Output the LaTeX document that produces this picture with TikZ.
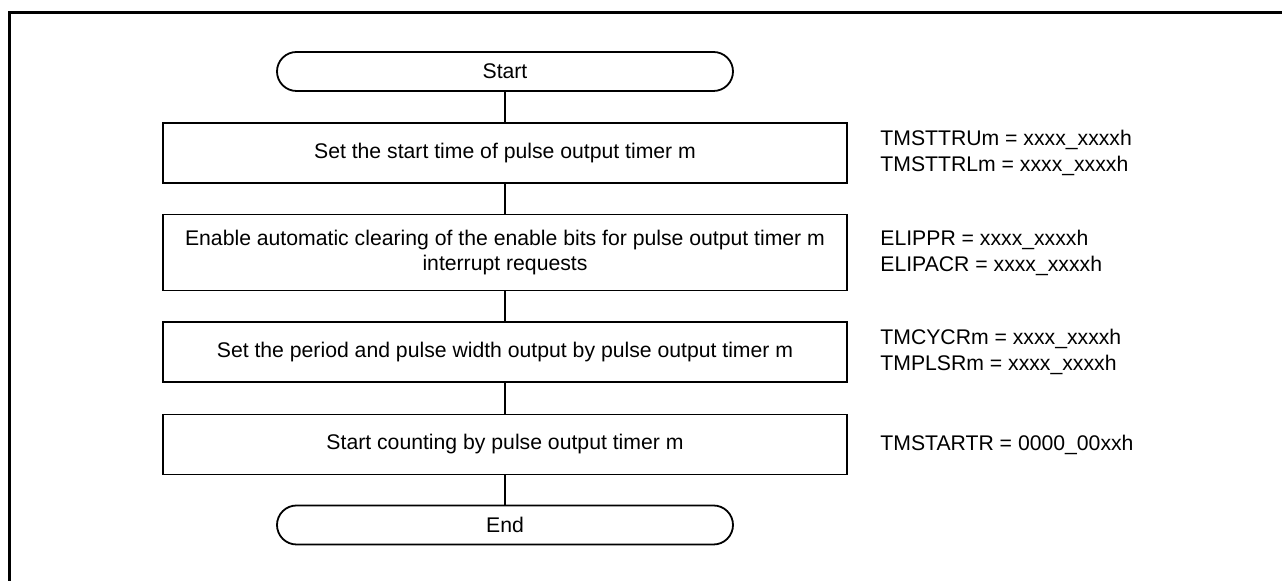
\documentclass[tikz,border=0pt]{standalone}
\usepackage{fontspec}
\setmainfont{Liberation Sans}
\usetikzlibrary{positioning}
\tikzset{box/.style={draw,line width=.9pt,minimum width=342pt,align=center,inner sep=0pt,font=\fontsize{10.6}{12.5}\selectfont},
term/.style={draw,line width=.9pt,minimum width=228pt,minimum height=19.5pt,rounded corners=9.75pt,inner sep=0pt,font=\fontsize{10.6}{12.5}\selectfont},
note/.style={anchor=west,align=left,inner sep=0pt,font=\fontsize{10.6}{13}\selectfont},
link/.style={line width=.8pt}}

\begin{document}
\begin{tikzpicture}[x=.5pt,y=-.5pt]
\useasboundingbox (0,0) rectangle (1282,581);
\draw[line width=1.75pt] (9.5,581) |- (1282,12.5);
\node[term] (start) at (505,71.5) {Start};
\node[box,minimum height=30pt] (b1) at (505,152.7) {Set the start time of pulse output timer m};
\node[box,minimum height=38pt] (b2) at (505,252.5) {Enable automatic clearing of the enable bits for pulse output timer m\\interrupt requests};
\node[box,minimum height=30.3pt] (b3) at (505,352) {Set the period and pulse width output by pulse output timer m};
\node[box,minimum height=30pt] (b4) at (505,444.5) {Start counting by pulse output timer m};
\node[term] (end) at (505,525) {End};
\foreach \a/\b in {start/b1,b1/b2,b2/b3,b3/b4,b4/end}
  \draw[link] (\a) -- (\b);
% register settings
\node[note] (n1) at (880,152.7) {TMSTTRUm = xxxx\_xxxxh\\TMSTTRLm = xxxx\_xxxxh};
\node[note] (n2) at (880,252.5) {ELIPPR = xxxx\_xxxxh\\ELIPACR = xxxx\_xxxxh};
\node[note] (n3) at (880,352) {TMCYCRm = xxxx\_xxxxh\\TMPLSRm = xxxx\_xxxxh};
\node[note] (n4) at (880,444.5) {TMSTARTR = 0000\_00xxh};
\end{tikzpicture}
\end{document}
